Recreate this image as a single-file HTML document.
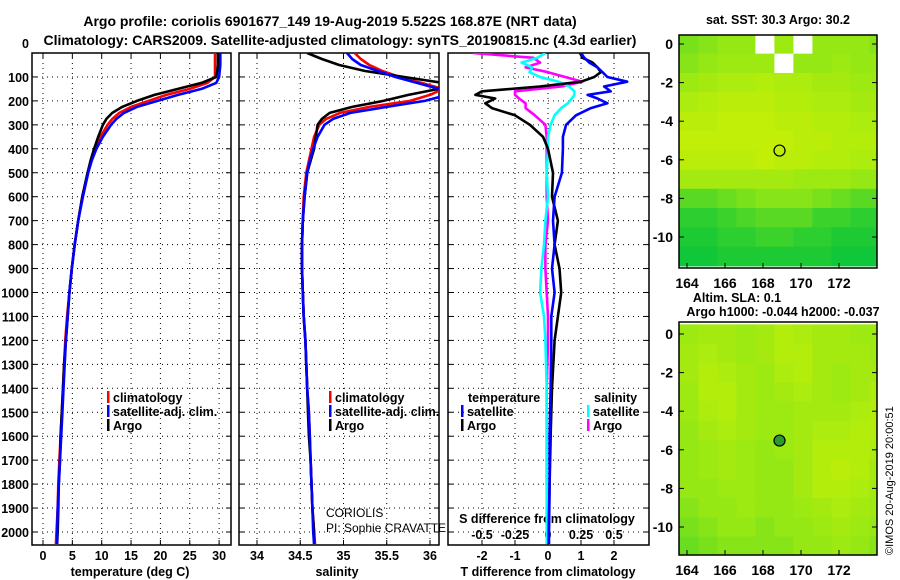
<!DOCTYPE html>
<html><head><meta charset="utf-8">
<style>
html,body{margin:0;padding:0;background:#fff;}
svg{display:block;font-family:"Liberation Sans",sans-serif;}
.t{font-weight:bold;font-size:12.5px;fill:#000;}
.tt{font-weight:bold;font-size:14px;fill:#000;}
.n{font-weight:normal;font-size:12px;fill:#000;}
</style></head>
<body>
<svg id="chart" width="900" height="580" viewBox="0 0 900 580">
<defs>
<clipPath id="c1"><rect x="32" y="53" width="199" height="492"/></clipPath>
<clipPath id="c2"><rect x="239" y="53" width="200" height="492"/></clipPath>
<clipPath id="c3"><rect x="448" y="53" width="201" height="492"/></clipPath>
</defs>
<text class="tt" x="330" y="26" text-anchor="middle">Argo profile: coriolis 6901677_149 19-Aug-2019 5.522S 168.87E (NRT data)</text>
<text class="tt" x="340" y="45" text-anchor="middle">Climatology: CARS2009. Satellite-adjusted climatology: synTS_20190815.nc (4.3d earlier)</text>
<text x="893" y="555" font-size="11" transform="rotate(-90 893 555)">©IMOS 20-Aug-2019 20:00:51</text>
</svg>
<script>
// ---- data ----
const depths = [0,25,50,75,100,125,150,175,200,225,250,275,300,350,400,450,500,600,700,800,900,1000,1100,1200,1300,1400,1500,1600,1700,1800,1900,2000,2050];
const tempArgo = [29.8,29.8,29.8,29.7,29.5,27,23,19,16,13.5,11.8,10.8,10.2,9.4,8.7,8.1,7.6,6.7,6.0,5.4,4.9,4.5,4.2,3.9,3.6,3.4,3.2,3.0,2.9,2.7,2.6,2.5,2.4];
const tempClim = [29.3,29.3,29.3,29.3,29.3,28,25,21,18,15,13,11.8,11,9.8,8.9,8.2,7.6,6.7,6.0,5.4,4.9,4.5,4.1,3.8,3.6,3.4,3.2,3.0,2.8,2.6,2.5,2.3,2.2];
const tempSat = [30.2,30.2,30.2,30.1,30,29.5,27,23,19.5,16,13.8,12.5,11.6,10.2,9.1,8.3,7.7,6.8,6.0,5.4,4.9,4.5,4.2,3.9,3.7,3.5,3.3,3.1,2.9,2.7,2.5,2.4,2.4];
const salArgo = [34.58,34.75,34.95,35.25,35.7,36.15,36.1,35.75,35.46,35.1,34.84,34.75,34.7,34.68,34.66,34.62,34.58,34.55,34.53,34.52,34.52,34.53,34.54,34.56,34.57,34.58,34.59,34.6,34.62,34.63,34.64,34.66,34.66];
const salClim = [35.13,35.2,35.3,35.45,35.65,35.9,36.15,36.0,35.77,35.3,34.96,34.8,34.72,34.66,34.63,34.6,34.57,34.54,34.53,34.52,34.52,34.53,34.54,34.56,34.57,34.58,34.6,34.61,34.62,34.63,34.64,34.66,34.67];
const salSat = [35.04,35.1,35.2,35.4,35.6,35.85,36.1,36.2,35.94,35.5,35.08,34.88,34.78,34.7,34.65,34.61,34.58,34.55,34.53,34.52,34.52,34.53,34.54,34.56,34.57,34.58,34.6,34.61,34.62,34.63,34.64,34.65,34.66];
const diffDepths = [0,20,40,60,80,100,120,140,160,175,190,210,230,260,300,350,400,500,600,700,800,900,1000,1100,1200,1400,1600,1800,2000,2050];
const tDiffSat = [1.0,1.1,1.25,1.5,1.65,1.8,2.4,1.7,1.9,1.2,1.5,1.8,1.3,0.85,0.55,0.45,0.45,0.42,0.2,0.15,0.2,0.12,0.2,0.1,0.1,0.08,0.05,0.05,0.03,0.03];
const tDiffArgo = [0.97,1.05,1.35,1.5,1.6,1.4,1.0,-0.25,-2.0,-2.2,-1.6,-1.9,-1.7,-1.0,-0.55,-0.15,0.0,0.15,0.12,0.3,0.2,0.35,0.4,0.3,0.2,0.12,0.08,0.05,0.02,0.02];
const sDiffArgo = [-0.57,-0.11,-0.06,-0.17,0.0,0.13,0.26,0.1,-0.25,-0.25,-0.22,-0.17,-0.17,-0.1,-0.02,-0.01,-0.01,-0.01,-0.01,0.0,-0.02,-0.02,-0.01,0.0,0.0,-0.01,-0.01,-0.01,0.0,0.0];
const sDiffSat = [-0.02,-0.08,-0.2,-0.12,-0.14,-0.06,0.08,0.16,0.2,0.2,0.18,0.15,0.1,0.05,0.02,0.0,0.0,-0.01,0.0,-0.02,-0.03,-0.05,-0.06,-0.03,-0.02,-0.01,-0.01,-0.01,-0.01,-0.01];
const depthTicks = [0,100,200,300,400,500,600,700,800,900,1000,1100,1200,1300,1400,1500,1600,1700,1800,1900,2000];
const tempTicks = [0,5,10,15,20,25,30];
const salTicks = [34,34.5,35,35.5,36];
const salTickLabels = ["34","34.5","35","35.5","36"];
const tDiffTicks = [-2,-1,0,1,2];
const sDiffTicks = [-0.5,-0.25,0,0.25,0.5];
const sDiffTickLabels = ["-0.5","-0.25","0","0.25","0.5"];
const lonTicks = [164,166,168,170,172];
const latTicks = [0,-2,-4,-6,-8,-10];
const sstGrid = [
[.4,.45,.5,.5,-1,.55,-1,.5,.5,.5,.45],
[.45,.5,.55,.55,.55,-1,.5,.5,.55,.5,.5],
[.55,.6,.65,.65,.7,.65,.65,.6,.6,.55,.55],
[.65,.7,.75,.75,.75,.7,.7,.65,.65,.6,.6],
[.75,.75,.8,.8,.8,.75,.75,.7,.7,.65,.65],
[.8,.8,.8,.8,.8,.8,.75,.75,.7,.7,.7],
[.75,.75,.75,.75,.8,.75,.75,.7,.7,.65,.65],
[.6,.6,.6,.6,.6,.6,.55,.55,.55,.5,.5],
[.3,.3,.35,.4,.45,.45,.45,.4,.35,.3,.3],
[.15,.15,.2,.25,.3,.3,.3,.2,.2,.15,.15],
[.1,.1,.15,.15,.2,.2,.15,.15,.1,.1,.1],
[.05,.05,.1,.1,.1,.1,.1,.1,.05,.05,.05]];
const slaGrid = [
[.55,.6,.6,.55,.6,.7,.65,.6,.6,.55,.55],
[.6,.65,.6,.55,.6,.7,.7,.6,.6,.6,.55],
[.6,.7,.65,.6,.55,.65,.7,.6,.55,.6,.6],
[.55,.7,.7,.6,.55,.6,.65,.6,.55,.6,.65],
[.55,.65,.7,.6,.55,.55,.6,.6,.6,.65,.7],
[.5,.6,.65,.6,.55,.55,.6,.65,.65,.7,.7],
[.5,.55,.6,.55,.5,.55,.6,.7,.7,.7,.65],
[.5,.55,.6,.55,.5,.5,.6,.7,.75,.7,.6],
[.5,.5,.55,.55,.5,.5,.6,.7,.7,.65,.6],
[.45,.5,.5,.55,.5,.5,.55,.6,.65,.6,.55],
[.4,.45,.5,.5,.45,.5,.5,.55,.6,.55,.5],
[.35,.4,.45,.45,.45,.45,.5,.5,.55,.5,.45]];

const NS = "http://www.w3.org/2000/svg";
const svg = document.getElementById('chart');
function mk(tag, attrs, parent) {
  const e = document.createElementNS(NS, tag);
  for (const k in attrs) e.setAttribute(k, attrs[k]);
  (parent || svg).appendChild(e);
  return e;
}
const yD = d => 53 + d * 0.2395;
const xT = v => 43 + v * 5.87;
const xS = v => 257 + (v - 34) * 86.5;
const xTd = v => 548 + v * 33;
const xSd = v => 548 + v * 132;

function panel(name) {
  const g = mk('g', {});
  
  
  return g;
}
function grid(g, x0, x1, xs) {
  depthTicks.forEach(d => {
    if (d === 0) return;
    const l = mk('line', {x1: x0, x2: x1, y1: yD(d), y2: yD(d), stroke: '#000', 'stroke-width': 1, 'stroke-dasharray': '1,4'}, g);
    
    
    mk('line', {x1: x0, x2: x0 + 5, y1: yD(d), y2: yD(d), stroke: '#000'}, g);
    mk('line', {x1: x1 - 5, x2: x1, y1: yD(d), y2: yD(d), stroke: '#000'}, g);
  });
  xs.forEach(x => {
    const l = mk('line', {x1: x, x2: x, y1: 53, y2: 545, stroke: '#000', 'stroke-width': 1, 'stroke-dasharray': '1,4'}, g);
    
    
    mk('line', {x1: x, x2: x, y1: 53, y2: 58, stroke: '#000'}, g);
    mk('line', {x1: x, x2: x, y1: 540, y2: 545, stroke: '#000'}, g);
  });
  const r = mk('rect', {x: x0, y: 53, width: x1 - x0, height: 492, fill: 'none', stroke: '#000', 'stroke-width': 1.5}, g);
  
  
}
function stepLine(g, ds, vs, fx, color, clip, name) {
  let p = '';
  for (let i = 0; i < ds.length; i++) {
    p += (i ? 'L' : 'M') + fx(vs[i]).toFixed(1) + ',' + yD(ds[i]).toFixed(1);
  }
  const e = mk('path', {d: p, fill: 'none', stroke: color, 'stroke-width': 2.6, 'clip-path': 'url(#' + clip + ')', 'stroke-linejoin': 'round'}, g);
  
  
}
function text(g, x, y, s, anchor, name, cls) {
  const e = mk('text', {x: x, y: y, 'text-anchor': anchor || 'start', class: cls || 't'}, g);
  e.textContent = s;
  
  
  return e;
}
function legend(g, x, y, color, label, name) {
  mk('rect', {x: x, y: y - 11, width: 2.5, height: 12, fill: color}, g);
  text(g, x + 6, y, label, 'start', name);
}

const g1 = panel('temperature-panel');
grid(g1, 32, 231, tempTicks.map(xT));
depthTicks.forEach(d => text(g1, 29, d === 0 ? 48 : yD(d) + 5, String(d), 'end', 'depth-tick-label'));
tempTicks.forEach(v => text(g1, xT(v), 560, String(v), 'middle', 'temperature-tick-label'));
text(g1, 130, 576, 'temperature (deg C)', 'middle', 'temperature-axis-title');
stepLine(g1, depths, tempClim, xT, '#ff0000', 'c1', 'temperature-climatology-line');
stepLine(g1, depths, tempArgo, xT, '#000000', 'c1', 'temperature-argo-line');
stepLine(g1, depths, tempSat, xT, '#0000ff', 'c1', 'temperature-satellite-line');
legend(g1, 107, 402, '#ff0000', 'climatology', 'legend-climatology');
legend(g1, 107, 416, '#0000ff', 'satellite-adj. clim.', 'legend-satellite');
legend(g1, 107, 430, '#000000', 'Argo', 'legend-argo');

const g2 = panel('salinity-panel');
grid(g2, 239, 439, salTicks.map(xS));
salTicks.forEach((v, i) => text(g2, xS(v), 560, salTickLabels[i], 'middle', 'salinity-tick-label'));
text(g2, 337, 576, 'salinity', 'middle', 'salinity-axis-title');
stepLine(g2, depths, salClim, xS, '#ff0000', 'c2', 'salinity-climatology-line');
stepLine(g2, depths, salArgo, xS, '#000000', 'c2', 'salinity-argo-line');
stepLine(g2, depths, salSat, xS, '#0000ff', 'c2', 'salinity-satellite-line');
legend(g2, 329, 402, '#ff0000', 'climatology', 'legend-climatology');
legend(g2, 329, 416, '#0000ff', 'satellite-adj. clim.', 'legend-satellite');
legend(g2, 329, 430, '#000000', 'Argo', 'legend-argo');
text(g2, 326, 517, 'CORIOLIS', 'start', 'operator-label', 'n');
text(g2, 326, 532, 'PI: Sophie CRAVATTE', 'start', 'pi-label', 'n');

const g3 = panel('difference-panel');
grid(g3, 448, 649, tDiffTicks.map(xTd));
tDiffTicks.forEach(v => text(g3, xTd(v), 560, String(v), 'middle', 't-diff-tick-label'));
sDiffTicks.forEach((v, i) => text(g3, xSd(v), 539, sDiffTickLabels[i], 'middle', 's-diff-tick-label'));
text(g3, 547, 523, 'S difference from climatology', 'middle', 's-diff-axis-title');
text(g3, 548, 576, 'T difference from climatology', 'middle', 't-diff-axis-title');
stepLine(g3, diffDepths, sDiffArgo, xSd, '#ff00ff', 'c3', 's-diff-argo-line');
stepLine(g3, diffDepths, sDiffSat, xSd, '#00ffff', 'c3', 's-diff-satellite-line');
stepLine(g3, diffDepths, tDiffArgo, xTd, '#000000', 'c3', 't-diff-argo-line');
stepLine(g3, diffDepths, tDiffSat, xTd, '#0000ff', 'c3', 't-diff-satellite-line');
text(g3, 468, 402, 'temperature', 'start', 'legend-temperature-heading');
legend(g3, 461, 416, '#0000ff', 'satellite', 'legend-t-satellite');
legend(g3, 461, 430, '#000000', 'Argo', 'legend-t-argo');
text(g3, 594, 402, 'salinity', 'start', 'legend-salinity-heading');
legend(g3, 587, 416, '#00ffff', 'satellite', 'legend-s-satellite');
legend(g3, 587, 430, '#ff00ff', 'Argo', 'legend-s-argo');

function colorOf(v) {
  const a = [0, 195, 60], b = [150, 232, 20], c = [222, 244, 0];
  let r;
  if (v < 0.5) { const t = v / 0.5; r = a.map((x, i) => x + (b[i] - x) * t); }
  else { const t = (v - 0.5) / 0.5; r = b.map((x, i) => x + (c[i] - x) * t); }
  return 'rgb(' + r.map(Math.round).join(',') + ')';
}
function map(top, lat0y, gridData, name) {
  const g = panel(name);
  const bottom = top + 233;
  const xL = lon => 687 + (lon - 164) * 19;
  const yL = lat => lat0y - lat * 19.3;
  gridData.forEach((row, ri) => row.forEach((v, ci) => {
    const x0 = Math.max(679, xL(163.6 + ci)), x1 = Math.min(877, xL(164.6 + ci));
    const y0 = Math.max(top, yL(0.5 - ri)), y1 = Math.min(bottom, yL(-0.5 - ri));
    if (x1 <= x0 || y1 <= y0) return;
    const r = mk('rect', {x: x0, y: y0, width: x1 - x0 + 0.5, height: y1 - y0 + 0.5, fill: v < 0 ? '#fff' : colorOf(v)}, g);
    
    
  }));
  const fr = mk('rect', {x: 679, y: top, width: 198, height: 233, fill: 'none', stroke: '#000', 'stroke-width': 1.5}, g);
  
  
  lonTicks.forEach(lon => {
    mk('line', {x1: xL(lon), x2: xL(lon), y1: bottom, y2: bottom - 5, stroke: '#000'}, g);
    text(g, xL(lon), bottom + 20, String(lon), 'middle', 'longitude-tick-label', 'tt');
  });
  latTicks.forEach(lat => {
    mk('line', {x1: 877, x2: 872, y1: yL(lat), y2: yL(lat), stroke: '#000'}, g);
    mk('line', {x1: 679, x2: 684, y1: yL(lat), y2: yL(lat), stroke: '#000'}, g);
    text(g, 673, yL(lat) + 5, String(lat), 'end', 'latitude-tick-label', 'tt');
  });
  const c = mk('circle', {cx: xL(168.87), cy: yL(-5.522), r: 5.5, fill: name === 'sla-map' ? '#2a9a30' : 'none', stroke: '#000', 'stroke-width': 1.2}, g);
  
  
  return g;
}
map(35, 44, sstGrid, 'sst-map');
text(svg, 778, 24, 'sat. SST: 30.3 Argo: 30.2', 'middle', 'sst-map-title');
map(322, 334, slaGrid, 'sla-map');
text(svg, 737, 302, 'Altim. SLA: 0.1', 'middle', 'sla-map-title');
text(svg, 783, 316, 'Argo h1000: -0.044 h2000: -0.037', 'middle', 'sla-map-subtitle');
</script>
</body></html>
